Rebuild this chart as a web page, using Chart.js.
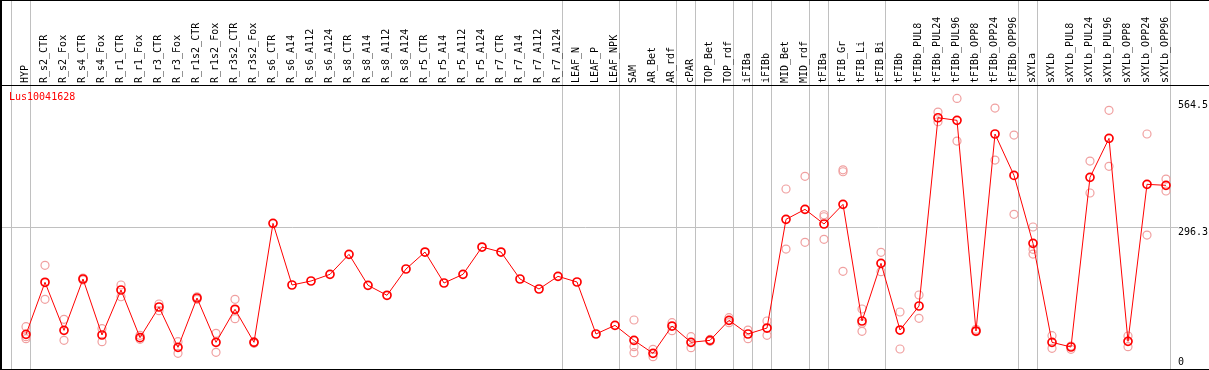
<!DOCTYPE html>
<html><head><meta charset="utf-8">
<script src="https://cdn.jsdelivr.net/npm/chart.js@4/dist/chart.umd.min.js"></script>
<style>html,body{margin:0;padding:0;background:#fff;overflow:hidden}canvas{display:block}</style>
</head><body>
<canvas id="c" width="1209" height="370"></canvas>
<script>
const geneId = 'Lus10041628';
const categories = ['HYP','R_s2_CTR','R_s2_Fox','R_s4_CTR','R_s4_Fox','R_r1_CTR','R_r1_Fox','R_r3_CTR','R_r3_Fox','R_r1s2_CTR','R_r1s2_Fox','R_r3s2_CTR','R_r3s2_Fox','R_s6_CTR','R_s6_A14','R_s6_A112','R_s6_A124','R_s8_CTR','R_s8_A14','R_s8_A112','R_s8_A124','R_r5_CTR','R_r5_A14','R_r5_A112','R_r5_A124','R_r7_CTR','R_r7_A14','R_r7_A112','R_r7_A124','LEAF_N','LEAF_P','LEAF_NPK','SAM','AR_Bet','AR_rdf','cPAR','TOP_Bet','TOP_rdf','iFIBa','iFIBb','MID_Bet','MID_rdf','tFIBa','tFIB_Gr','tFIB_Li','tFIB_Bi','tFIBb','tFIBb_PUL8','tFIBb_PUL24','tFIBb_PUL96','tFIBb_OPP8','tFIBb_OPP24','tFIBb_OPP96','sXYLa','sXYLb','sXYLb_PUL8','sXYLb_PUL24','sXYLb_PUL96','sXYLb_OPP8','sXYLb_OPP24','sXYLb_OPP96'];
const means = [72.8,182,81.1,188.9,71.4,165.8,65.8,130.1,45.5,149,56,125.3,56,305.7,176.3,184.7,198.7,240.7,175.6,154.7,209.9,245.5,180.5,198.7,256,245.5,188.9,167.9,194.5,182.6,73.5,91.6,60.1,32.9,90.2,56,60.1,102.2,73.5,86,314.1,335.1,304.3,345.6,100.7,221.8,81.8,132.2,527.4,521.9,79.7,493.2,406.4,263.7,56,46.2,402.3,484.1,58.1,387.6,385.5];
const rep1 = [88.8,217.6,104.2,191,84.6,176.3,70.7,136.4,57.3,151.7,74.9,146.3,57.3,null,null,null,null,null,null,null,null,null,null,null,null,null,null,null,null,null,null,null,102.8,41.3,97.2,67.8,62,107.7,81.8,100.7,377.8,404.4,323.8,418,125.9,244.9,119.6,155.3,539.3,568,83.3,547.7,491,298,69.9,48.3,436.5,542.9,69.3,493.2,398.7];
const rep2 = [67.8,146.3,60.1,187,57.3,151.7,62.3,122.4,32.9,146.3,35,105.6,53.9,null,null,null,null,null,null,null,null,null,null,null,null,null,null,null,null,null,null,null,46.9,25.9,80.4,44.7,58,97.2,63.6,70.7,251.8,265.9,319.6,414,95.9,204.2,42,106.4,519,478.5,78.3,438.6,324.6,251.2,43.4,41.3,369.4,425.4,46.9,281.2,373.6];
const rep3 = [63.6,null,null,null,null,null,null,null,null,null,null,null,null,null,null,null,null,null,null,null,null,null,null,null,null,null,null,null,null,null,null,null,34.3,null,null,null,null,null,null,null,null,null,272.2,205,79.1,null,null,null,null,null,null,null,null,241.3,null,null,null,null,null,null,null];
const groupBoundaries = [0,1,29,32,35,36,38,39,40,42,43,46,53,54,61];
const yTickValues = [0, 296.3, 564.5];
const yTickLabels = ['0', '296.3', '564.5'];

const MONO = '"DejaVu Sans Mono", "Liberation Mono", monospace';
const X_MIN = -26 / 19, X_MAX = (1171 - 26) / 19;

const toPts = arr => arr.map((v, i) => ({x: i, y: v}));

const frame = {
  id: 'frame',
  afterDraw(chart) {
    const ctx = chart.ctx, W = chart.width, H = chart.height;
    ctx.save();
    ctx.fillStyle = '#000';
    ctx.fillRect(0, 0, W, 1);
    ctx.fillRect(0, 85, W, 1);
    ctx.fillRect(0, 369, W, 1);
    ctx.fillRect(0, 0, 2, H);
    ctx.font = '10px ' + MONO;
    ctx.fillStyle = '#ff0000';
    ctx.textBaseline = 'middle';
    ctx.textAlign = 'left';
    ctx.fillText(geneId, 9, 97);
    ctx.restore();
  }
};

const repStyle = {
  showLine: false,
  pointStyle: 'circle',
  pointRadius: 4,
  pointBorderWidth: 1.2,
  pointBorderColor: '#f0a0a0',
  pointBackgroundColor: 'rgba(0,0,0,0)'
};

new Chart(document.getElementById('c'), {
  type: 'line',
  data: {
    datasets: [
      { label: geneId, data: toPts(means), borderColor: '#ff0000', borderWidth: 1, tension: 0, fill: false,
        pointStyle: 'circle', pointRadius: 4, pointBorderWidth: 1.7, pointBorderColor: '#ff0000', pointBackgroundColor: 'rgba(0,0,0,0)' },
      Object.assign({ label: 'rep1', data: toPts(rep1) }, repStyle),
      Object.assign({ label: 'rep2', data: toPts(rep2) }, repStyle),
      Object.assign({ label: 'rep3', data: toPts(rep3) }, repStyle)
    ]
  },
  options: {
    responsive: false,
    animation: false,
    devicePixelRatio: 1,
    layout: { autoPadding: false, padding: { top: 0, bottom: 1, left: 0, right: 0 } },
    plugins: { legend: { display: false }, tooltip: { enabled: false } },
    scales: {
      x: {
        type: 'linear', position: 'top', min: X_MIN, max: X_MAX,
        afterBuildTicks(s) {
          s.ticks = categories.map((_, i) => ({ value: i }))
            .concat(groupBoundaries.map(k => ({ value: k - 0.75 })))
            .sort((a, b) => a.value - b.value);
        },
        afterFit(s) { s.height = 86; s.paddingLeft = 0; s.paddingRight = 0; },
        border: { display: false },
        grid: {
          color: c => (c.tick && !Number.isInteger(c.tick.value)) ? '#c0c0c0' : 'rgba(0,0,0,0)',
          lineWidth: 1, drawTicks: true, tickLength: 86, drawOnChartArea: true
        },
        ticks: {
          autoSkip: false, maxRotation: 90, minRotation: 90, padding: -83, labelOffset: 11, color: '#000',
          font: { family: MONO, size: 10 },
          callback: v => Number.isInteger(v) ? categories[v] : ''
        }
      },
      y: {
        position: 'right', min: 0, max: 594,
        afterBuildTicks(s) { s.ticks = yTickValues.map(v => ({ value: v })); },
        afterFit(s) { s.width = 38; s.paddingTop = 0; s.paddingBottom = 0; },
        border: { display: false },
        grid: {
          color: c => (c.tick && c.tick.value === 296.3) ? '#c0c0c0' : 'rgba(0,0,0,0)',
          drawTicks: true, tickLength: 7
        },
        ticks: {
          padding: 0, labelOffset: 5, color: '#000', font: { family: MONO, size: 10 },
          callback: v => { const i = yTickValues.indexOf(v); return v === 0 ? [yTickLabels[i], '', ''] : yTickLabels[i]; }
        }
      }
    }
  },
  plugins: [frame]
});
</script>
</body></html>
